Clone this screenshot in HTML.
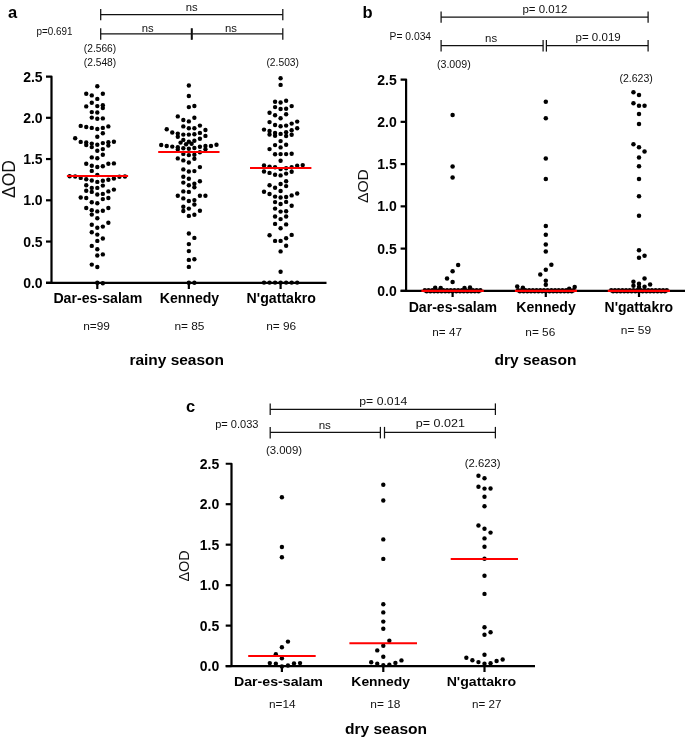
<!DOCTYPE html>
<html lang="en"><head><meta charset="utf-8"><title>Figure</title>
<style>html,body{margin:0;padding:0;background:#fff}body{width:685px;height:740px;overflow:hidden}svg{display:block;will-change:transform}</style>
</head><body>
<svg width="685" height="740" viewBox="0 0 685 740" font-family='"Liberation Sans", Arial, Helvetica, sans-serif'>
<rect width="685" height="740" fill="#fff"/>
<!-- panel a -->
<line x1="100.70" y1="14.50" x2="282.80" y2="14.50" stroke="#111" stroke-width="1.25"/>
<line x1="100.70" y1="9.00" x2="100.70" y2="20.20" stroke="#111" stroke-width="1.25"/>
<line x1="282.80" y1="9.00" x2="282.80" y2="20.20" stroke="#111" stroke-width="1.25"/>
<line x1="100.70" y1="33.80" x2="191.40" y2="33.80" stroke="#111" stroke-width="1.25"/>
<line x1="100.70" y1="28.30" x2="100.70" y2="39.80" stroke="#111" stroke-width="1.25"/>
<line x1="191.40" y1="28.30" x2="191.40" y2="39.80" stroke="#111" stroke-width="1.25"/>
<line x1="192.20" y1="33.80" x2="282.80" y2="33.80" stroke="#111" stroke-width="1.25"/>
<line x1="192.20" y1="28.30" x2="192.20" y2="39.80" stroke="#111" stroke-width="1.25"/>
<line x1="282.80" y1="28.30" x2="282.80" y2="39.80" stroke="#111" stroke-width="1.25"/>
<g fill="#000"><circle cx="97.30" cy="86.30" r="2.2"/><circle cx="86.24" cy="93.80" r="2.2"/><circle cx="102.83" cy="93.80" r="2.2"/><circle cx="91.77" cy="95.40" r="2.2"/><circle cx="97.30" cy="98.90" r="2.2"/><circle cx="91.77" cy="102.80" r="2.2"/><circle cx="86.24" cy="106.40" r="2.2"/><circle cx="97.30" cy="106.10" r="2.2"/><circle cx="102.83" cy="105.20" r="2.2"/><circle cx="102.83" cy="108.10" r="2.2"/><circle cx="91.77" cy="112.10" r="2.2"/><circle cx="97.30" cy="112.50" r="2.2"/><circle cx="91.77" cy="117.60" r="2.2"/><circle cx="97.30" cy="118.70" r="2.2"/><circle cx="102.83" cy="118.40" r="2.2"/><circle cx="80.71" cy="125.90" r="2.2"/><circle cx="86.24" cy="127.00" r="2.2"/><circle cx="91.77" cy="127.90" r="2.2"/><circle cx="97.30" cy="129.00" r="2.2"/><circle cx="102.83" cy="127.90" r="2.2"/><circle cx="108.36" cy="126.40" r="2.2"/><circle cx="102.83" cy="133.30" r="2.2"/><circle cx="97.30" cy="136.80" r="2.2"/><circle cx="75.18" cy="138.30" r="2.2"/><circle cx="80.71" cy="141.90" r="2.2"/><circle cx="86.24" cy="142.50" r="2.2"/><circle cx="86.24" cy="145.10" r="2.2"/><circle cx="91.77" cy="143.60" r="2.2"/><circle cx="91.77" cy="147.10" r="2.2"/><circle cx="97.30" cy="144.80" r="2.2"/><circle cx="102.83" cy="143.10" r="2.2"/><circle cx="108.36" cy="142.20" r="2.2"/><circle cx="108.36" cy="145.60" r="2.2"/><circle cx="113.89" cy="141.80" r="2.2"/><circle cx="102.83" cy="149.10" r="2.2"/><circle cx="97.30" cy="150.80" r="2.2"/><circle cx="102.83" cy="154.80" r="2.2"/><circle cx="91.77" cy="157.40" r="2.2"/><circle cx="97.30" cy="158.20" r="2.2"/><circle cx="86.24" cy="163.70" r="2.2"/><circle cx="91.77" cy="165.70" r="2.2"/><circle cx="97.30" cy="167.00" r="2.2"/><circle cx="102.83" cy="166.30" r="2.2"/><circle cx="108.36" cy="163.70" r="2.2"/><circle cx="113.89" cy="163.40" r="2.2"/><circle cx="91.77" cy="170.90" r="2.2"/><circle cx="69.65" cy="176.20" r="2.2"/><circle cx="75.18" cy="176.50" r="2.2"/><circle cx="80.71" cy="177.90" r="2.2"/><circle cx="86.24" cy="179.30" r="2.2"/><circle cx="91.77" cy="180.50" r="2.2"/><circle cx="97.30" cy="175.00" r="2.2"/><circle cx="97.30" cy="181.90" r="2.2"/><circle cx="102.83" cy="180.80" r="2.2"/><circle cx="108.36" cy="179.80" r="2.2"/><circle cx="113.89" cy="178.50" r="2.2"/><circle cx="119.42" cy="176.70" r="2.2"/><circle cx="124.95" cy="176.50" r="2.2"/><circle cx="86.24" cy="185.30" r="2.2"/><circle cx="91.77" cy="187.90" r="2.2"/><circle cx="97.30" cy="187.90" r="2.2"/><circle cx="102.83" cy="185.60" r="2.2"/><circle cx="86.24" cy="190.80" r="2.2"/><circle cx="91.77" cy="191.90" r="2.2"/><circle cx="97.30" cy="194.50" r="2.2"/><circle cx="102.83" cy="193.90" r="2.2"/><circle cx="108.36" cy="191.40" r="2.2"/><circle cx="113.89" cy="189.60" r="2.2"/><circle cx="80.71" cy="197.50" r="2.2"/><circle cx="86.24" cy="198.00" r="2.2"/><circle cx="102.83" cy="199.10" r="2.2"/><circle cx="108.36" cy="198.00" r="2.2"/><circle cx="91.77" cy="202.20" r="2.2"/><circle cx="97.30" cy="203.30" r="2.2"/><circle cx="86.24" cy="208.00" r="2.2"/><circle cx="91.77" cy="210.30" r="2.2"/><circle cx="97.30" cy="211.40" r="2.2"/><circle cx="102.83" cy="210.80" r="2.2"/><circle cx="108.36" cy="208.00" r="2.2"/><circle cx="91.77" cy="214.60" r="2.2"/><circle cx="97.30" cy="218.30" r="2.2"/><circle cx="108.36" cy="222.70" r="2.2"/><circle cx="91.77" cy="224.70" r="2.2"/><circle cx="97.30" cy="227.80" r="2.2"/><circle cx="102.83" cy="226.60" r="2.2"/><circle cx="91.77" cy="232.30" r="2.2"/><circle cx="97.30" cy="234.60" r="2.2"/><circle cx="102.83" cy="238.50" r="2.2"/><circle cx="97.30" cy="240.90" r="2.2"/><circle cx="91.77" cy="245.90" r="2.2"/><circle cx="97.30" cy="249.20" r="2.2"/><circle cx="97.30" cy="255.50" r="2.2"/><circle cx="102.83" cy="254.40" r="2.2"/><circle cx="91.77" cy="264.60" r="2.2"/><circle cx="97.30" cy="267.00" r="2.2"/><circle cx="97.30" cy="282.80" r="2.2"/><circle cx="102.83" cy="283.20" r="2.2"/></g>
<g fill="#000"><circle cx="188.85" cy="85.50" r="2.2"/><circle cx="188.85" cy="96.00" r="2.2"/><circle cx="188.85" cy="107.10" r="2.2"/><circle cx="194.38" cy="106.00" r="2.2"/><circle cx="177.79" cy="116.40" r="2.2"/><circle cx="183.32" cy="120.00" r="2.2"/><circle cx="188.85" cy="121.40" r="2.2"/><circle cx="194.38" cy="117.80" r="2.2"/><circle cx="183.32" cy="126.40" r="2.2"/><circle cx="188.85" cy="128.20" r="2.2"/><circle cx="194.38" cy="128.20" r="2.2"/><circle cx="199.91" cy="125.60" r="2.2"/><circle cx="166.73" cy="129.30" r="2.2"/><circle cx="172.26" cy="132.50" r="2.2"/><circle cx="177.79" cy="133.60" r="2.2"/><circle cx="177.79" cy="136.80" r="2.2"/><circle cx="183.32" cy="134.60" r="2.2"/><circle cx="188.85" cy="134.60" r="2.2"/><circle cx="194.38" cy="134.30" r="2.2"/><circle cx="199.91" cy="132.90" r="2.2"/><circle cx="205.44" cy="130.00" r="2.2"/><circle cx="205.44" cy="135.90" r="2.2"/><circle cx="199.91" cy="138.80" r="2.2"/><circle cx="194.38" cy="140.80" r="2.2"/><circle cx="183.32" cy="139.90" r="2.2"/><circle cx="188.85" cy="141.70" r="2.2"/><circle cx="180.56" cy="142.60" r="2.2"/><circle cx="186.09" cy="144.30" r="2.2"/><circle cx="191.61" cy="143.80" r="2.2"/><circle cx="161.20" cy="145.00" r="2.2"/><circle cx="166.73" cy="146.00" r="2.2"/><circle cx="172.26" cy="146.60" r="2.2"/><circle cx="177.79" cy="147.30" r="2.2"/><circle cx="177.79" cy="149.50" r="2.2"/><circle cx="183.32" cy="148.30" r="2.2"/><circle cx="188.85" cy="148.80" r="2.2"/><circle cx="194.38" cy="148.00" r="2.2"/><circle cx="199.91" cy="146.80" r="2.2"/><circle cx="205.44" cy="146.00" r="2.2"/><circle cx="205.44" cy="149.30" r="2.2"/><circle cx="210.97" cy="146.00" r="2.2"/><circle cx="216.50" cy="144.80" r="2.2"/><circle cx="183.32" cy="153.90" r="2.2"/><circle cx="188.85" cy="155.10" r="2.2"/><circle cx="194.38" cy="154.80" r="2.2"/><circle cx="194.38" cy="158.70" r="2.2"/><circle cx="199.91" cy="152.20" r="2.2"/><circle cx="177.79" cy="158.40" r="2.2"/><circle cx="183.32" cy="160.40" r="2.2"/><circle cx="188.85" cy="162.50" r="2.2"/><circle cx="199.91" cy="167.10" r="2.2"/><circle cx="183.32" cy="169.40" r="2.2"/><circle cx="188.85" cy="171.50" r="2.2"/><circle cx="194.38" cy="171.10" r="2.2"/><circle cx="183.32" cy="176.80" r="2.2"/><circle cx="188.85" cy="178.70" r="2.2"/><circle cx="183.32" cy="182.60" r="2.2"/><circle cx="199.91" cy="181.30" r="2.2"/><circle cx="188.85" cy="185.20" r="2.2"/><circle cx="194.38" cy="183.80" r="2.2"/><circle cx="194.38" cy="187.30" r="2.2"/><circle cx="183.32" cy="191.40" r="2.2"/><circle cx="188.85" cy="191.90" r="2.2"/><circle cx="177.79" cy="195.70" r="2.2"/><circle cx="183.32" cy="198.40" r="2.2"/><circle cx="188.85" cy="201.00" r="2.2"/><circle cx="194.38" cy="200.10" r="2.2"/><circle cx="199.91" cy="195.70" r="2.2"/><circle cx="205.44" cy="195.70" r="2.2"/><circle cx="194.38" cy="204.50" r="2.2"/><circle cx="183.32" cy="206.80" r="2.2"/><circle cx="183.32" cy="211.00" r="2.2"/><circle cx="188.85" cy="208.60" r="2.2"/><circle cx="199.91" cy="210.70" r="2.2"/><circle cx="188.85" cy="215.90" r="2.2"/><circle cx="194.38" cy="214.70" r="2.2"/><circle cx="188.85" cy="233.50" r="2.2"/><circle cx="194.38" cy="237.90" r="2.2"/><circle cx="188.85" cy="244.10" r="2.2"/><circle cx="188.85" cy="251.10" r="2.2"/><circle cx="188.85" cy="259.90" r="2.2"/><circle cx="194.38" cy="259.30" r="2.2"/><circle cx="188.85" cy="266.90" r="2.2"/><circle cx="188.85" cy="282.80" r="2.2"/><circle cx="194.38" cy="282.80" r="2.2"/></g>
<g fill="#000"><circle cx="280.60" cy="78.20" r="2.2"/><circle cx="280.60" cy="84.90" r="2.2"/><circle cx="275.07" cy="101.80" r="2.2"/><circle cx="280.60" cy="102.50" r="2.2"/><circle cx="286.13" cy="100.70" r="2.2"/><circle cx="275.07" cy="107.10" r="2.2"/><circle cx="280.60" cy="109.00" r="2.2"/><circle cx="286.13" cy="108.70" r="2.2"/><circle cx="291.66" cy="106.10" r="2.2"/><circle cx="269.54" cy="112.80" r="2.2"/><circle cx="275.07" cy="115.30" r="2.2"/><circle cx="280.60" cy="118.30" r="2.2"/><circle cx="286.13" cy="114.30" r="2.2"/><circle cx="269.54" cy="122.10" r="2.2"/><circle cx="275.07" cy="125.00" r="2.2"/><circle cx="280.60" cy="126.20" r="2.2"/><circle cx="286.13" cy="125.60" r="2.2"/><circle cx="291.66" cy="123.60" r="2.2"/><circle cx="297.19" cy="121.60" r="2.2"/><circle cx="264.01" cy="129.60" r="2.2"/><circle cx="269.54" cy="131.00" r="2.2"/><circle cx="269.54" cy="134.50" r="2.2"/><circle cx="275.07" cy="132.90" r="2.2"/><circle cx="275.07" cy="135.80" r="2.2"/><circle cx="280.60" cy="133.90" r="2.2"/><circle cx="286.13" cy="132.20" r="2.2"/><circle cx="286.13" cy="136.00" r="2.2"/><circle cx="291.66" cy="130.20" r="2.2"/><circle cx="291.66" cy="134.80" r="2.2"/><circle cx="297.19" cy="128.30" r="2.2"/><circle cx="280.60" cy="141.10" r="2.2"/><circle cx="275.07" cy="145.10" r="2.2"/><circle cx="280.60" cy="147.40" r="2.2"/><circle cx="286.13" cy="144.80" r="2.2"/><circle cx="269.54" cy="149.10" r="2.2"/><circle cx="275.07" cy="154.20" r="2.2"/><circle cx="280.60" cy="154.10" r="2.2"/><circle cx="286.13" cy="154.10" r="2.2"/><circle cx="291.66" cy="153.80" r="2.2"/><circle cx="280.60" cy="160.80" r="2.2"/><circle cx="264.01" cy="165.40" r="2.2"/><circle cx="269.54" cy="166.60" r="2.2"/><circle cx="275.07" cy="167.30" r="2.2"/><circle cx="280.60" cy="169.10" r="2.2"/><circle cx="286.13" cy="168.30" r="2.2"/><circle cx="291.66" cy="167.30" r="2.2"/><circle cx="297.19" cy="165.70" r="2.2"/><circle cx="302.72" cy="165.10" r="2.2"/><circle cx="264.01" cy="171.50" r="2.2"/><circle cx="269.54" cy="172.90" r="2.2"/><circle cx="275.07" cy="174.70" r="2.2"/><circle cx="280.60" cy="175.40" r="2.2"/><circle cx="286.13" cy="173.60" r="2.2"/><circle cx="291.66" cy="171.80" r="2.2"/><circle cx="286.13" cy="181.20" r="2.2"/><circle cx="269.54" cy="185.20" r="2.2"/><circle cx="275.07" cy="187.80" r="2.2"/><circle cx="280.60" cy="184.00" r="2.2"/><circle cx="286.13" cy="186.10" r="2.2"/><circle cx="264.01" cy="191.70" r="2.2"/><circle cx="269.54" cy="194.00" r="2.2"/><circle cx="275.07" cy="196.60" r="2.2"/><circle cx="280.60" cy="191.00" r="2.2"/><circle cx="280.60" cy="197.50" r="2.2"/><circle cx="286.13" cy="197.00" r="2.2"/><circle cx="291.66" cy="195.40" r="2.2"/><circle cx="297.19" cy="193.50" r="2.2"/><circle cx="275.07" cy="202.10" r="2.2"/><circle cx="280.60" cy="204.00" r="2.2"/><circle cx="286.13" cy="201.90" r="2.2"/><circle cx="291.66" cy="205.80" r="2.2"/><circle cx="275.07" cy="208.60" r="2.2"/><circle cx="280.60" cy="211.60" r="2.2"/><circle cx="286.13" cy="211.20" r="2.2"/><circle cx="275.07" cy="216.50" r="2.2"/><circle cx="280.60" cy="219.10" r="2.2"/><circle cx="286.13" cy="216.50" r="2.2"/><circle cx="275.07" cy="223.90" r="2.2"/><circle cx="280.60" cy="228.20" r="2.2"/><circle cx="286.13" cy="224.40" r="2.2"/><circle cx="269.54" cy="235.30" r="2.2"/><circle cx="275.07" cy="240.90" r="2.2"/><circle cx="280.60" cy="240.90" r="2.2"/><circle cx="286.13" cy="238.30" r="2.2"/><circle cx="291.66" cy="234.90" r="2.2"/><circle cx="286.13" cy="245.80" r="2.2"/><circle cx="280.60" cy="251.40" r="2.2"/><circle cx="280.60" cy="271.80" r="2.2"/><circle cx="264.01" cy="282.60" r="2.2"/><circle cx="269.54" cy="282.60" r="2.2"/><circle cx="275.07" cy="282.60" r="2.2"/><circle cx="280.60" cy="282.60" r="2.2"/><circle cx="286.13" cy="282.60" r="2.2"/><circle cx="291.66" cy="282.60" r="2.2"/><circle cx="297.19" cy="282.60" r="2.2"/></g>
<path d="M46.00,76.55 L51.50,76.55 L51.50,282.80" fill="none" stroke="#000" stroke-width="2.2" stroke-linejoin="round"/>
<line x1="46.00" y1="282.80" x2="326.50" y2="282.80" stroke="#000" stroke-width="2.3"/>
<line x1="46.00" y1="282.80" x2="51.50" y2="282.80" stroke="#000" stroke-width="2.2"/>
<text x="42.60" y="287.80" font-size="14" font-weight="bold" text-anchor="end" fill="#000">0.0</text>
<line x1="46.00" y1="241.55" x2="51.50" y2="241.55" stroke="#000" stroke-width="2.2"/>
<text x="42.60" y="246.55" font-size="14" font-weight="bold" text-anchor="end" fill="#000">0.5</text>
<line x1="46.00" y1="200.30" x2="51.50" y2="200.30" stroke="#000" stroke-width="2.2"/>
<text x="42.60" y="205.30" font-size="14" font-weight="bold" text-anchor="end" fill="#000">1.0</text>
<line x1="46.00" y1="159.05" x2="51.50" y2="159.05" stroke="#000" stroke-width="2.2"/>
<text x="42.60" y="164.05" font-size="14" font-weight="bold" text-anchor="end" fill="#000">1.5</text>
<line x1="46.00" y1="117.80" x2="51.50" y2="117.80" stroke="#000" stroke-width="2.2"/>
<text x="42.60" y="122.80" font-size="14" font-weight="bold" text-anchor="end" fill="#000">2.0</text>
<text x="42.60" y="81.55" font-size="14" font-weight="bold" text-anchor="end" fill="#000">2.5</text>
<line x1="97.30" y1="282.80" x2="97.30" y2="289.00" stroke="#000" stroke-width="2.2"/>
<line x1="188.85" y1="282.80" x2="188.85" y2="289.00" stroke="#000" stroke-width="2.2"/>
<line x1="280.60" y1="282.80" x2="280.60" y2="289.00" stroke="#000" stroke-width="2.2"/>
<line x1="66.90" y1="176.10" x2="128.10" y2="176.10" stroke="#f00" stroke-width="2"/>
<line x1="158.20" y1="152.00" x2="219.50" y2="152.00" stroke="#f00" stroke-width="2"/>
<line x1="250.00" y1="168.10" x2="311.40" y2="168.10" stroke="#f00" stroke-width="2"/>
<text x="8.00" y="18.00" font-size="16.5" font-weight="bold" fill="#000">a</text>
<text x="36.45" y="34.50" font-size="10.3" textLength="35.95" lengthAdjust="spacingAndGlyphs" fill="#111">p=0.691</text>
<text x="191.80" y="11.10" font-size="11.3" text-anchor="middle" fill="#111">ns</text>
<text x="147.80" y="32.00" font-size="11.3" text-anchor="middle" fill="#111">ns</text>
<text x="231.00" y="32.00" font-size="11.3" text-anchor="middle" fill="#111">ns</text>
<text x="83.85" y="51.70" font-size="10.4" textLength="32.35" lengthAdjust="spacingAndGlyphs" fill="#111">(2.566)</text>
<text x="83.85" y="66.30" font-size="10.4" textLength="32.35" lengthAdjust="spacingAndGlyphs" fill="#111">(2.548)</text>
<text x="266.45" y="65.80" font-size="10.4" textLength="32.55" lengthAdjust="spacingAndGlyphs" fill="#111">(2.503)</text>
<text x="53.40" y="303.40" font-size="13.8" font-weight="bold" textLength="88.90" lengthAdjust="spacingAndGlyphs" fill="#000">Dar-es-salam</text>
<text x="159.80" y="303.40" font-size="13.8" font-weight="bold" textLength="59.40" lengthAdjust="spacingAndGlyphs" fill="#000">Kennedy</text>
<text x="246.60" y="303.40" font-size="13.8" font-weight="bold" textLength="69.40" lengthAdjust="spacingAndGlyphs" fill="#000">N'gattakro</text>
<text x="83.15" y="329.80" font-size="10.5" textLength="26.75" lengthAdjust="spacingAndGlyphs" fill="#111">n=99</text>
<text x="174.45" y="329.80" font-size="10.5" textLength="30.05" lengthAdjust="spacingAndGlyphs" fill="#111">n= 85</text>
<text x="266.15" y="329.80" font-size="10.5" textLength="30.05" lengthAdjust="spacingAndGlyphs" fill="#111">n= 96</text>
<text x="129.40" y="365.40" font-size="15.4" font-weight="bold" textLength="94.60" lengthAdjust="spacingAndGlyphs" fill="#000">rainy season</text>
<text transform="translate(14.90,198.00) rotate(-90)" font-size="17.5" textLength="38.00" lengthAdjust="spacingAndGlyphs" fill="#111">ΔOD</text>
<!-- panel b -->
<line x1="441.10" y1="17.00" x2="648.10" y2="17.00" stroke="#111" stroke-width="1.25"/>
<line x1="441.10" y1="11.40" x2="441.10" y2="22.80" stroke="#111" stroke-width="1.25"/>
<line x1="648.10" y1="11.40" x2="648.10" y2="22.80" stroke="#111" stroke-width="1.25"/>
<line x1="441.10" y1="45.70" x2="543.10" y2="45.70" stroke="#111" stroke-width="1.25"/>
<line x1="441.10" y1="40.00" x2="441.10" y2="51.60" stroke="#111" stroke-width="1.25"/>
<line x1="543.10" y1="40.00" x2="543.10" y2="51.60" stroke="#111" stroke-width="1.25"/>
<line x1="546.40" y1="45.70" x2="648.10" y2="45.70" stroke="#111" stroke-width="1.25"/>
<line x1="546.40" y1="40.00" x2="546.40" y2="51.60" stroke="#111" stroke-width="1.25"/>
<line x1="648.10" y1="40.00" x2="648.10" y2="51.60" stroke="#111" stroke-width="1.25"/>
<g fill="#000"><circle cx="452.60" cy="114.90" r="2.25"/><circle cx="452.60" cy="166.50" r="2.25"/><circle cx="452.60" cy="177.40" r="2.25"/><circle cx="458.15" cy="264.90" r="2.25"/><circle cx="452.60" cy="271.20" r="2.25"/><circle cx="447.05" cy="278.40" r="2.25"/><circle cx="452.60" cy="281.90" r="2.25"/><circle cx="435.20" cy="287.80" r="2.25"/><circle cx="440.70" cy="288.00" r="2.25"/><circle cx="464.50" cy="288.00" r="2.25"/><circle cx="470.00" cy="287.60" r="2.25"/><circle cx="424.85" cy="290.30" r="2.25"/><circle cx="426.70" cy="291.30" r="2.25"/><circle cx="428.55" cy="290.30" r="2.25"/><circle cx="430.40" cy="291.30" r="2.25"/><circle cx="432.25" cy="290.30" r="2.25"/><circle cx="434.10" cy="291.30" r="2.25"/><circle cx="435.95" cy="290.30" r="2.25"/><circle cx="437.80" cy="291.30" r="2.25"/><circle cx="439.65" cy="290.30" r="2.25"/><circle cx="441.50" cy="291.30" r="2.25"/><circle cx="443.35" cy="290.30" r="2.25"/><circle cx="445.20" cy="291.30" r="2.25"/><circle cx="447.05" cy="290.30" r="2.25"/><circle cx="448.90" cy="291.30" r="2.25"/><circle cx="450.75" cy="290.30" r="2.25"/><circle cx="452.60" cy="291.30" r="2.25"/><circle cx="454.45" cy="290.30" r="2.25"/><circle cx="456.30" cy="291.30" r="2.25"/><circle cx="458.15" cy="290.30" r="2.25"/><circle cx="460.00" cy="291.30" r="2.25"/><circle cx="461.85" cy="290.30" r="2.25"/><circle cx="463.70" cy="291.30" r="2.25"/><circle cx="465.55" cy="290.30" r="2.25"/><circle cx="467.40" cy="291.30" r="2.25"/><circle cx="469.25" cy="290.30" r="2.25"/><circle cx="471.10" cy="291.30" r="2.25"/><circle cx="472.95" cy="290.30" r="2.25"/><circle cx="474.80" cy="291.30" r="2.25"/><circle cx="476.65" cy="290.30" r="2.25"/><circle cx="478.50" cy="291.30" r="2.25"/><circle cx="480.35" cy="290.30" r="2.25"/></g>
<g fill="#000"><circle cx="545.80" cy="101.80" r="2.25"/><circle cx="545.80" cy="118.20" r="2.25"/><circle cx="545.80" cy="158.50" r="2.25"/><circle cx="545.80" cy="178.90" r="2.25"/><circle cx="545.80" cy="226.00" r="2.25"/><circle cx="545.80" cy="234.80" r="2.25"/><circle cx="545.80" cy="244.50" r="2.25"/><circle cx="545.80" cy="251.50" r="2.25"/><circle cx="551.35" cy="264.70" r="2.25"/><circle cx="545.80" cy="269.70" r="2.25"/><circle cx="540.25" cy="274.40" r="2.25"/><circle cx="545.80" cy="280.80" r="2.25"/><circle cx="545.80" cy="284.70" r="2.25"/><circle cx="517.20" cy="286.60" r="2.25"/><circle cx="522.90" cy="287.70" r="2.25"/><circle cx="574.70" cy="287.00" r="2.25"/><circle cx="569.20" cy="288.70" r="2.25"/><circle cx="518.05" cy="290.30" r="2.25"/><circle cx="519.90" cy="291.30" r="2.25"/><circle cx="521.75" cy="290.30" r="2.25"/><circle cx="523.60" cy="291.30" r="2.25"/><circle cx="525.45" cy="290.30" r="2.25"/><circle cx="527.30" cy="291.30" r="2.25"/><circle cx="529.15" cy="290.30" r="2.25"/><circle cx="531.00" cy="291.30" r="2.25"/><circle cx="532.85" cy="290.30" r="2.25"/><circle cx="534.70" cy="291.30" r="2.25"/><circle cx="536.55" cy="290.30" r="2.25"/><circle cx="538.40" cy="291.30" r="2.25"/><circle cx="540.25" cy="290.30" r="2.25"/><circle cx="542.10" cy="291.30" r="2.25"/><circle cx="543.95" cy="290.30" r="2.25"/><circle cx="545.80" cy="291.30" r="2.25"/><circle cx="547.65" cy="290.30" r="2.25"/><circle cx="549.50" cy="291.30" r="2.25"/><circle cx="551.35" cy="290.30" r="2.25"/><circle cx="553.20" cy="291.30" r="2.25"/><circle cx="555.05" cy="290.30" r="2.25"/><circle cx="556.90" cy="291.30" r="2.25"/><circle cx="558.75" cy="290.30" r="2.25"/><circle cx="560.60" cy="291.30" r="2.25"/><circle cx="562.45" cy="290.30" r="2.25"/><circle cx="564.30" cy="291.30" r="2.25"/><circle cx="566.15" cy="290.30" r="2.25"/><circle cx="568.00" cy="291.30" r="2.25"/><circle cx="569.85" cy="290.30" r="2.25"/><circle cx="571.70" cy="291.30" r="2.25"/><circle cx="573.55" cy="290.30" r="2.25"/></g>
<g fill="#000"><circle cx="633.45" cy="92.20" r="2.25"/><circle cx="639.00" cy="95.00" r="2.25"/><circle cx="633.45" cy="103.20" r="2.25"/><circle cx="639.00" cy="105.70" r="2.25"/><circle cx="644.55" cy="105.70" r="2.25"/><circle cx="639.00" cy="114.10" r="2.25"/><circle cx="639.00" cy="124.00" r="2.25"/><circle cx="633.45" cy="144.30" r="2.25"/><circle cx="639.00" cy="147.30" r="2.25"/><circle cx="644.55" cy="151.40" r="2.25"/><circle cx="639.00" cy="157.50" r="2.25"/><circle cx="639.00" cy="166.30" r="2.25"/><circle cx="639.00" cy="178.90" r="2.25"/><circle cx="639.00" cy="196.20" r="2.25"/><circle cx="639.00" cy="215.70" r="2.25"/><circle cx="639.00" cy="250.20" r="2.25"/><circle cx="644.55" cy="255.70" r="2.25"/><circle cx="639.00" cy="257.80" r="2.25"/><circle cx="644.55" cy="278.40" r="2.25"/><circle cx="633.45" cy="281.80" r="2.25"/><circle cx="633.45" cy="285.70" r="2.25"/><circle cx="639.00" cy="283.80" r="2.25"/><circle cx="639.00" cy="287.00" r="2.25"/><circle cx="644.55" cy="286.70" r="2.25"/><circle cx="650.10" cy="284.60" r="2.25"/><circle cx="611.25" cy="290.30" r="2.25"/><circle cx="613.10" cy="291.30" r="2.25"/><circle cx="614.95" cy="290.30" r="2.25"/><circle cx="616.80" cy="291.30" r="2.25"/><circle cx="618.65" cy="290.30" r="2.25"/><circle cx="620.50" cy="291.30" r="2.25"/><circle cx="622.35" cy="290.30" r="2.25"/><circle cx="624.20" cy="291.30" r="2.25"/><circle cx="626.05" cy="290.30" r="2.25"/><circle cx="627.90" cy="291.30" r="2.25"/><circle cx="629.75" cy="290.30" r="2.25"/><circle cx="631.60" cy="291.30" r="2.25"/><circle cx="633.45" cy="290.30" r="2.25"/><circle cx="635.30" cy="291.30" r="2.25"/><circle cx="637.15" cy="290.30" r="2.25"/><circle cx="639.00" cy="291.30" r="2.25"/><circle cx="640.85" cy="290.30" r="2.25"/><circle cx="642.70" cy="291.30" r="2.25"/><circle cx="644.55" cy="290.30" r="2.25"/><circle cx="646.40" cy="291.30" r="2.25"/><circle cx="648.25" cy="290.30" r="2.25"/><circle cx="650.10" cy="291.30" r="2.25"/><circle cx="651.95" cy="290.30" r="2.25"/><circle cx="653.80" cy="291.30" r="2.25"/><circle cx="655.65" cy="290.30" r="2.25"/><circle cx="657.50" cy="291.30" r="2.25"/><circle cx="659.35" cy="290.30" r="2.25"/><circle cx="661.20" cy="291.30" r="2.25"/><circle cx="663.05" cy="290.30" r="2.25"/><circle cx="664.90" cy="291.30" r="2.25"/><circle cx="666.75" cy="290.30" r="2.25"/></g>
<path d="M400.60,79.60 L406.10,79.60 L406.10,290.85" fill="none" stroke="#000" stroke-width="2.2" stroke-linejoin="round"/>
<line x1="400.60" y1="290.85" x2="685.00" y2="290.85" stroke="#000" stroke-width="2.3"/>
<line x1="400.60" y1="290.85" x2="406.10" y2="290.85" stroke="#000" stroke-width="2.2"/>
<text x="396.80" y="295.85" font-size="14" font-weight="bold" text-anchor="end" fill="#000">0.0</text>
<line x1="400.60" y1="248.60" x2="406.10" y2="248.60" stroke="#000" stroke-width="2.2"/>
<text x="396.80" y="253.60" font-size="14" font-weight="bold" text-anchor="end" fill="#000">0.5</text>
<line x1="400.60" y1="206.35" x2="406.10" y2="206.35" stroke="#000" stroke-width="2.2"/>
<text x="396.80" y="211.35" font-size="14" font-weight="bold" text-anchor="end" fill="#000">1.0</text>
<line x1="400.60" y1="164.10" x2="406.10" y2="164.10" stroke="#000" stroke-width="2.2"/>
<text x="396.80" y="169.10" font-size="14" font-weight="bold" text-anchor="end" fill="#000">1.5</text>
<line x1="400.60" y1="121.85" x2="406.10" y2="121.85" stroke="#000" stroke-width="2.2"/>
<text x="396.80" y="126.85" font-size="14" font-weight="bold" text-anchor="end" fill="#000">2.0</text>
<text x="396.80" y="84.60" font-size="14" font-weight="bold" text-anchor="end" fill="#000">2.5</text>
<line x1="452.60" y1="290.85" x2="452.60" y2="297.00" stroke="#000" stroke-width="2.2"/>
<line x1="545.80" y1="290.85" x2="545.80" y2="297.00" stroke="#000" stroke-width="2.2"/>
<line x1="639.00" y1="290.85" x2="639.00" y2="297.00" stroke="#000" stroke-width="2.2"/>
<line x1="421.40" y1="290.85" x2="483.80" y2="290.85" stroke="#f00" stroke-width="2.35"/>
<line x1="514.90" y1="290.85" x2="577.00" y2="290.85" stroke="#f00" stroke-width="2.35"/>
<line x1="607.80" y1="290.85" x2="670.00" y2="290.85" stroke="#f00" stroke-width="2.35"/>
<text x="362.60" y="18.00" font-size="16.5" font-weight="bold" fill="#000">b</text>
<text x="389.55" y="40.00" font-size="10" textLength="41.55" lengthAdjust="spacingAndGlyphs" fill="#111">P= 0.034</text>
<text x="522.45" y="13.00" font-size="10.5" textLength="45.05" lengthAdjust="spacingAndGlyphs" fill="#111">p= 0.012</text>
<text x="491.10" y="42.20" font-size="11.4" text-anchor="middle" fill="#111">ns</text>
<text x="575.55" y="41.30" font-size="10.5" textLength="45.15" lengthAdjust="spacingAndGlyphs" fill="#111">p= 0.019</text>
<text x="436.95" y="67.70" font-size="10.3" textLength="33.75" lengthAdjust="spacingAndGlyphs" fill="#111">(3.009)</text>
<text x="619.45" y="81.90" font-size="10.3" textLength="33.45" lengthAdjust="spacingAndGlyphs" fill="#111">(2.623)</text>
<text x="408.65" y="312.30" font-size="13.8" font-weight="bold" textLength="88.50" lengthAdjust="spacingAndGlyphs" fill="#000">Dar-es-salam</text>
<text x="516.25" y="312.30" font-size="13.8" font-weight="bold" textLength="59.60" lengthAdjust="spacingAndGlyphs" fill="#000">Kennedy</text>
<text x="604.55" y="312.30" font-size="13.8" font-weight="bold" textLength="68.60" lengthAdjust="spacingAndGlyphs" fill="#000">N'gattakro</text>
<text x="432.35" y="335.90" font-size="10.5" textLength="29.65" lengthAdjust="spacingAndGlyphs" fill="#111">n= 47</text>
<text x="525.35" y="335.50" font-size="10.5" textLength="29.95" lengthAdjust="spacingAndGlyphs" fill="#111">n= 56</text>
<text x="620.85" y="333.90" font-size="10.5" textLength="30.25" lengthAdjust="spacingAndGlyphs" fill="#111">n= 59</text>
<text x="494.45" y="365.10" font-size="15.3" font-weight="bold" textLength="82.00" lengthAdjust="spacingAndGlyphs" fill="#000">dry season</text>
<text transform="translate(368.20,203.05) rotate(-90)" font-size="15.0" textLength="33.90" lengthAdjust="spacingAndGlyphs" fill="#111">ΔOD</text>
<!-- panel c -->
<line x1="270.20" y1="409.40" x2="495.40" y2="409.40" stroke="#111" stroke-width="1.25"/>
<line x1="270.20" y1="403.40" x2="270.20" y2="415.00" stroke="#111" stroke-width="1.25"/>
<line x1="495.40" y1="403.40" x2="495.40" y2="415.00" stroke="#111" stroke-width="1.25"/>
<line x1="270.20" y1="432.40" x2="380.40" y2="432.40" stroke="#111" stroke-width="1.25"/>
<line x1="270.20" y1="426.90" x2="270.20" y2="438.40" stroke="#111" stroke-width="1.25"/>
<line x1="380.40" y1="426.90" x2="380.40" y2="438.40" stroke="#111" stroke-width="1.25"/>
<line x1="384.50" y1="432.40" x2="495.40" y2="432.40" stroke="#111" stroke-width="1.25"/>
<line x1="384.50" y1="426.90" x2="384.50" y2="438.40" stroke="#111" stroke-width="1.25"/>
<line x1="495.40" y1="426.90" x2="495.40" y2="438.40" stroke="#111" stroke-width="1.25"/>
<g fill="#000"><circle cx="281.90" cy="497.30" r="2.2"/><circle cx="281.90" cy="547.00" r="2.2"/><circle cx="281.90" cy="557.20" r="2.2"/><circle cx="287.95" cy="641.60" r="2.2"/><circle cx="281.90" cy="647.20" r="2.2"/><circle cx="275.85" cy="654.30" r="2.2"/><circle cx="281.90" cy="658.20" r="2.2"/><circle cx="269.80" cy="663.10" r="2.2"/><circle cx="275.85" cy="663.80" r="2.2"/><circle cx="281.90" cy="666.40" r="2.2"/><circle cx="287.95" cy="665.50" r="2.2"/><circle cx="294.00" cy="663.50" r="2.2"/><circle cx="300.05" cy="663.10" r="2.2"/></g>
<g fill="#000"><circle cx="383.30" cy="484.80" r="2.2"/><circle cx="383.30" cy="500.50" r="2.2"/><circle cx="383.30" cy="539.40" r="2.2"/><circle cx="383.30" cy="558.90" r="2.2"/><circle cx="383.30" cy="604.20" r="2.2"/><circle cx="383.30" cy="612.40" r="2.2"/><circle cx="383.30" cy="621.60" r="2.2"/><circle cx="383.30" cy="628.70" r="2.2"/><circle cx="389.35" cy="640.80" r="2.2"/><circle cx="383.30" cy="645.80" r="2.2"/><circle cx="377.25" cy="650.40" r="2.2"/><circle cx="383.30" cy="656.70" r="2.2"/><circle cx="371.20" cy="662.20" r="2.2"/><circle cx="377.25" cy="663.80" r="2.2"/><circle cx="383.30" cy="665.20" r="2.2"/><circle cx="389.35" cy="664.80" r="2.2"/><circle cx="395.40" cy="662.90" r="2.2"/><circle cx="401.45" cy="660.40" r="2.2"/></g>
<g fill="#000"><circle cx="478.45" cy="475.70" r="2.2"/><circle cx="484.50" cy="478.30" r="2.2"/><circle cx="478.45" cy="486.70" r="2.2"/><circle cx="484.50" cy="488.60" r="2.2"/><circle cx="490.55" cy="488.50" r="2.2"/><circle cx="484.50" cy="496.80" r="2.2"/><circle cx="484.50" cy="506.20" r="2.2"/><circle cx="478.45" cy="525.50" r="2.2"/><circle cx="484.50" cy="528.70" r="2.2"/><circle cx="490.55" cy="532.60" r="2.2"/><circle cx="484.50" cy="538.40" r="2.2"/><circle cx="484.50" cy="546.70" r="2.2"/><circle cx="484.50" cy="558.70" r="2.2"/><circle cx="484.50" cy="575.70" r="2.2"/><circle cx="484.50" cy="593.90" r="2.2"/><circle cx="484.50" cy="627.30" r="2.2"/><circle cx="490.55" cy="632.20" r="2.2"/><circle cx="484.50" cy="634.70" r="2.2"/><circle cx="484.50" cy="654.70" r="2.2"/><circle cx="466.35" cy="657.70" r="2.2"/><circle cx="472.40" cy="660.30" r="2.2"/><circle cx="478.45" cy="662.10" r="2.2"/><circle cx="484.50" cy="663.70" r="2.2"/><circle cx="490.55" cy="663.30" r="2.2"/><circle cx="496.60" cy="661.00" r="2.2"/><circle cx="502.65" cy="659.50" r="2.2"/></g>
<path d="M225.70,463.73 L231.50,463.73 L231.50,666.10" fill="none" stroke="#000" stroke-width="2.2" stroke-linejoin="round"/>
<line x1="225.70" y1="666.10" x2="535.00" y2="666.10" stroke="#000" stroke-width="2.3"/>
<line x1="225.70" y1="666.10" x2="231.50" y2="666.10" stroke="#000" stroke-width="2.2"/>
<text x="219.20" y="671.00" font-size="14" font-weight="bold" text-anchor="end" fill="#000">0.0</text>
<line x1="225.70" y1="625.62" x2="231.50" y2="625.62" stroke="#000" stroke-width="2.2"/>
<text x="219.20" y="630.52" font-size="14" font-weight="bold" text-anchor="end" fill="#000">0.5</text>
<line x1="225.70" y1="585.15" x2="231.50" y2="585.15" stroke="#000" stroke-width="2.2"/>
<text x="219.20" y="590.05" font-size="14" font-weight="bold" text-anchor="end" fill="#000">1.0</text>
<line x1="225.70" y1="544.67" x2="231.50" y2="544.67" stroke="#000" stroke-width="2.2"/>
<text x="219.20" y="549.57" font-size="14" font-weight="bold" text-anchor="end" fill="#000">1.5</text>
<line x1="225.70" y1="504.20" x2="231.50" y2="504.20" stroke="#000" stroke-width="2.2"/>
<text x="219.20" y="509.10" font-size="14" font-weight="bold" text-anchor="end" fill="#000">2.0</text>
<text x="219.20" y="468.62" font-size="14" font-weight="bold" text-anchor="end" fill="#000">2.5</text>
<line x1="281.90" y1="666.10" x2="281.90" y2="672.00" stroke="#000" stroke-width="2.2"/>
<line x1="383.30" y1="666.10" x2="383.30" y2="672.00" stroke="#000" stroke-width="2.2"/>
<line x1="484.50" y1="666.10" x2="484.50" y2="672.00" stroke="#000" stroke-width="2.2"/>
<line x1="248.20" y1="655.90" x2="315.70" y2="655.90" stroke="#f00" stroke-width="2"/>
<line x1="349.40" y1="643.30" x2="417.00" y2="643.30" stroke="#f00" stroke-width="2"/>
<line x1="450.70" y1="559.00" x2="518.00" y2="559.00" stroke="#f00" stroke-width="2"/>
<text x="186.00" y="411.60" font-size="16.5" font-weight="bold" fill="#000">c</text>
<text x="215.15" y="427.80" font-size="10" textLength="43.35" lengthAdjust="spacingAndGlyphs" fill="#111">p= 0.033</text>
<text x="359.25" y="405.00" font-size="10.5" textLength="48.05" lengthAdjust="spacingAndGlyphs" fill="#111">p= 0.014</text>
<text x="324.80" y="429.20" font-size="11.6" text-anchor="middle" fill="#111">ns</text>
<text x="415.75" y="427.00" font-size="10.5" textLength="49.15" lengthAdjust="spacingAndGlyphs" fill="#111">p= 0.021</text>
<text x="265.95" y="453.90" font-size="10" textLength="36.15" lengthAdjust="spacingAndGlyphs" fill="#111">(3.009)</text>
<text x="464.75" y="466.70" font-size="10.3" textLength="35.75" lengthAdjust="spacingAndGlyphs" fill="#111">(2.623)</text>
<text x="233.95" y="685.80" font-size="13.5" font-weight="bold" textLength="89.00" lengthAdjust="spacingAndGlyphs" fill="#000">Dar-es-salam</text>
<text x="351.35" y="685.80" font-size="13.5" font-weight="bold" textLength="58.70" lengthAdjust="spacingAndGlyphs" fill="#000">Kennedy</text>
<text x="446.65" y="685.80" font-size="13.5" font-weight="bold" textLength="69.40" lengthAdjust="spacingAndGlyphs" fill="#000">N'gattakro</text>
<text x="268.95" y="708.00" font-size="10.5" textLength="26.65" lengthAdjust="spacingAndGlyphs" fill="#111">n=14</text>
<text x="370.35" y="707.70" font-size="10.5" textLength="30.15" lengthAdjust="spacingAndGlyphs" fill="#111">n= 18</text>
<text x="472.05" y="707.70" font-size="10.5" textLength="29.45" lengthAdjust="spacingAndGlyphs" fill="#111">n= 27</text>
<text x="344.95" y="734.40" font-size="15.3" font-weight="bold" textLength="82.10" lengthAdjust="spacingAndGlyphs" fill="#000">dry season</text>
<text transform="translate(189.10,581.60) rotate(-90)" font-size="15.0" textLength="31.20" lengthAdjust="spacingAndGlyphs" fill="#111">ΔOD</text>
</svg></body></html>
